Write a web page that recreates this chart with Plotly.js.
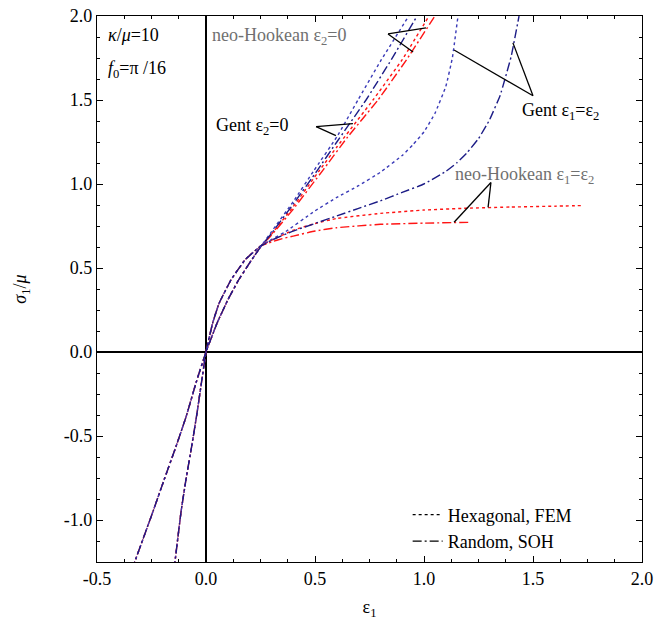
<!DOCTYPE html>
<html>
<head>
<meta charset="utf-8">
<script src="https://cdn.plot.ly/plotly-3.0.1.min.js"></script>
<style>html,body{margin:0;padding:0;background:#fff;}#chart{width:658px;height:625px;}</style>
</head>
<body>
<div id="chart"></div>
<script>
// ---- data ----
// shared small-strain branch, plane strain (eps2 = 0)
const epsPS0 = [-0.341, -0.326, -0.245, -0.192, -0.138, -0.09, -0.045, 0, 0.05, 0.10, 0.15, 0.20, 0.25];
const sigPS0 = [-1.30, -1.246, -0.956, -0.76, -0.564, -0.38, -0.18, 0, 0.17, 0.31, 0.43, 0.53, 0.625];
// shared small-strain branch, equibiaxial (eps1 = eps2)
const epsEB0 = [-0.146, -0.142, -0.115, -0.092, -0.066, -0.041, -0.019, 0, 0.03, 0.06, 0.115, 0.18, 0.25];
const sigEB0 = [-1.30, -1.246, -0.956, -0.76, -0.564, -0.362, -0.166, 0, 0.17, 0.29, 0.43, 0.55, 0.63];

// Gent, eps2 = 0
const epsGentPS_FEM = [0.30, 0.40, 0.495, 0.60, 0.697, 0.80, 0.93];
const sigGentPS_FEM = [0.715, 0.895, 1.08, 1.28, 1.50, 1.73, 2.00];
const epsGentPS_SOH = [0.30, 0.40, 0.51, 0.60, 0.734, 0.85, 0.968];
const sigGentPS_SOH = [0.705, 0.88, 1.08, 1.25, 1.50, 1.74, 2.00];
// neo-Hookean, eps2 = 0
const epsNHPS_FEM = [0.30, 0.40, 0.52, 0.60, 0.766, 0.90, 1.023];
const sigNHPS_FEM = [0.70, 0.865, 1.08, 1.22, 1.50, 1.74, 2.00];
const epsNHPS_SOH = [0.30, 0.40, 0.535, 0.65, 0.789, 0.92, 1.05];
const sigNHPS_SOH = [0.695, 0.85, 1.08, 1.28, 1.50, 1.74, 2.00];
// Gent, eps1 = eps2
const epsGentEB_FEM = [0.30, 0.358, 0.50, 0.60, 0.70, 0.80, 0.90, 0.95, 1.00, 1.05, 1.10, 1.13, 1.156];
const sigGentEB_FEM = [0.67, 0.71, 0.84, 0.92, 0.99, 1.07, 1.17, 1.235, 1.31, 1.42, 1.58, 1.75, 2.00];
const epsGentEB_SOH = [0.30, 0.40, 0.50, 0.60, 0.70, 0.80, 0.90, 1.00, 1.10, 1.15, 1.20, 1.25, 1.30, 1.35, 1.40, 1.436];
const sigGentEB_SOH = [0.665, 0.72, 0.765, 0.81, 0.855, 0.90, 0.95, 1.00, 1.075, 1.125, 1.19, 1.27, 1.38, 1.53, 1.76, 2.00];
// neo-Hookean, eps1 = eps2
const epsNHEB_FEM = [0.30, 0.40, 0.50, 0.60, 0.80, 1.00, 1.20, 1.40, 1.60, 1.734];
const sigNHEB_FEM = [0.665, 0.725, 0.765, 0.795, 0.825, 0.845, 0.856, 0.863, 0.868, 0.872];
const epsNHEB_SOH = [0.30, 0.35, 0.40, 0.50, 0.60, 0.80, 1.00, 1.21];
const sigNHEB_SOH = [0.655, 0.675, 0.69, 0.72, 0.74, 0.76, 0.767, 0.772];

const xTickVals = [-0.5, 0.0, 0.5, 1.0, 1.5, 2.0];
const xTickText = ['-0.5', '0.0', '0.5', '1.0', '1.5', '2.0'];
const yTickVals = [-1.0, -0.5, 0.0, 0.5, 1.0, 1.5, 2.0];
const yTickText = ['-1.0', '-0.5', '0.0', '0.5', '1.0', '1.5', '2.0'];
const legendNames = ['Hexagonal, FEM', 'Random, SOH'];

// ---- styles ----
const FONT = 'Liberation Serif';
const BLUE_DOT = '#3a3ab8';
const BLUE_DD = '#1c1c86';
const RED = '#ff1414';
const DOT = 'dot';
const DASHDOT = '9px,3px,2px,3px';

function curve(x0, y0, x1, y1, color, dash) {
  return {
    x: x0.concat(x1), y: y0.concat(y1), type: 'scatter', mode: 'lines',
    line: {color: color, dash: dash, width: 1.4, shape: 'spline', smoothing: 0.3},
    showlegend: false, hoverinfo: 'skip'
  };
}

const traces = [
  curve(epsEB0, sigEB0, epsNHEB_FEM, sigNHEB_FEM, RED, DOT),
  curve(epsEB0, sigEB0, epsNHEB_SOH, sigNHEB_SOH, RED, DASHDOT),
  curve(epsPS0, sigPS0, epsNHPS_FEM, sigNHPS_FEM, RED, DOT),
  curve(epsPS0, sigPS0, epsNHPS_SOH, sigNHPS_SOH, RED, DASHDOT),
  curve(epsEB0, sigEB0, epsGentEB_FEM, sigGentEB_FEM, BLUE_DOT, DOT),
  curve(epsEB0, sigEB0, epsGentEB_SOH, sigGentEB_SOH, BLUE_DD, DASHDOT),
  curve(epsPS0, sigPS0, epsGentPS_FEM, sigGentPS_FEM, BLUE_DOT, DOT),
  curve(epsPS0, sigPS0, epsGentPS_SOH, sigGentPS_SOH, BLUE_DD, DASHDOT),
  {x: [null], y: [null], type: 'scatter', mode: 'lines', name: legendNames[0],
   line: {color: '#000', dash: DOT, width: 1.2}},
  {x: [null], y: [null], type: 'scatter', mode: 'lines', name: legendNames[1],
   line: {color: '#000', dash: DASHDOT, width: 1.2}}
];

function seg(x0, y0, x1, y1) {
  return {type: 'line', xref: 'x', yref: 'y', x0: x0, y0: y0, x1: x1, y1: y1,
          line: {color: '#000', width: 1.3}};
}
const shapes = [
  seg(0.835, 1.893, 1.009, 1.929), seg(0.835, 1.893, 0.950, 1.786),
  seg(0.505, 1.341, 0.674, 1.359), seg(0.505, 1.341, 0.596, 1.288),
  seg(1.500, 1.525, 1.138, 1.798), seg(1.500, 1.525, 1.408, 1.840),
  seg(1.307, 1.009, 1.138, 0.772), seg(1.307, 1.009, 1.294, 0.861)
];

function txt(x, y, text, color) {
  return {x: x, y: y, xref: 'x', yref: 'y', text: text, showarrow: false,
          xanchor: 'left', yanchor: 'middle',
          font: {family: FONT, size: 18, color: color}};
}
const annotations = [
  txt(-0.46, 1.885, '<i>κ</i>/<i>μ</i>=10', '#000'),
  txt(-0.46, 1.68, '<i>f</i><sub>0</sub>=π /16', '#000'),
  txt(0.02, 1.88, 'neo-Hookean ε<sub>2</sub>=0', '#707070'),
  txt(0.035, 1.34, 'Gent ε<sub>2</sub>=0', '#000'),
  txt(1.44, 1.43, 'Gent ε<sub>1</sub>=ε<sub>2</sub>', '#000'),
  txt(1.135, 1.05, 'neo-Hookean ε<sub>1</sub>=ε<sub>2</sub>', '#707070')
];

const axisCommon = {
  showline: true, linecolor: '#000', linewidth: 1.2, mirror: 'allticks',
  ticks: 'inside', ticklen: 6, tickwidth: 1, tickcolor: '#000',
  showgrid: false, zeroline: true, zerolinecolor: '#000', zerolinewidth: 1.2,
  tickfont: {family: FONT, size: 18, color: '#000'},
  minor: {dtick: 0.125, ticks: 'inside', ticklen: 3, tickcolor: '#000', showgrid: false},
  tickmode: 'array', fixedrange: true
};

const layout = {
  width: 658, height: 625,
  margin: {l: 97, r: 16, t: 16, b: 63},
  paper_bgcolor: '#fff', plot_bgcolor: '#fff',
  font: {family: FONT, size: 18, color: '#000'},
  xaxis: Object.assign({}, axisCommon, {
    range: [-0.5, 2.0], tickvals: xTickVals, ticktext: xTickText,
    title: {text: 'ε<sub>1</sub>', font: {family: FONT, size: 18}, standoff: 12}
  }),
  yaxis: Object.assign({}, axisCommon, {
    range: [-1.25, 2.0], tickvals: yTickVals, ticktext: yTickText,
    title: {text: '<i>σ</i><sub>1</sub>/<i>μ</i>', font: {family: FONT, size: 18}, standoff: 32}
  }),
  legend: {x: 0.57, xanchor: 'left', y: 0.12, yanchor: 'top',
           bgcolor: 'rgba(0,0,0,0)', borderwidth: 0,
           font: {family: FONT, size: 18, color: '#000'}},
  shapes: shapes,
  annotations: annotations,
  showlegend: true
};

Plotly.newPlot('chart', traces, layout, {displayModeBar: false, staticPlot: true});
</script>
</body>
</html>
